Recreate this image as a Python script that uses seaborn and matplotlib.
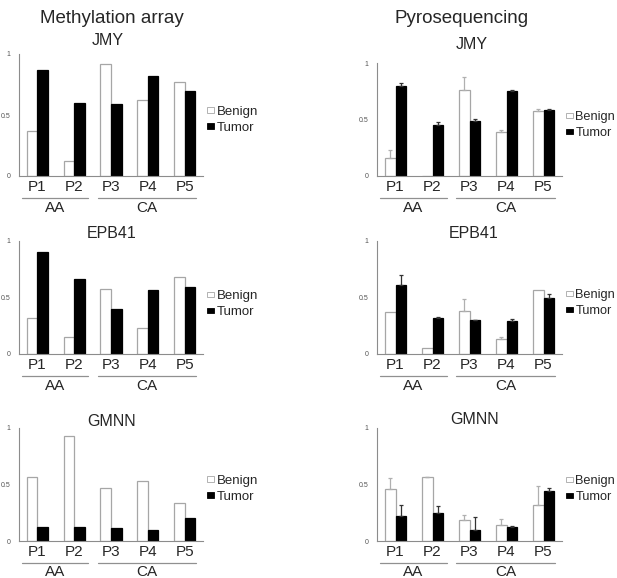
import pandas as pd
import seaborn as sns
import matplotlib.pyplot as plt
from matplotlib.patches import Patch
import numpy as np

# global look
sns.set_theme(style="white")
plt.rcParams.update({
    'font.family': ['Liberation Sans', 'DejaVu Sans'],
    'axes.spines.right': False,
    'axes.spines.top': False,
    'axes.edgecolor': '#8c8c8c',
    'axes.linewidth': 0.8,
})

patients = ['P1', 'P2', 'P3', 'P4', 'P5']
groups = ['AA', 'AA', 'CA', 'CA', 'CA']
status = ['Benign', 'Tumor']

# Methylation array (beta values)
meth_jmy_benign = [0.37, 0.12, 0.92, 0.62, 0.77]
meth_jmy_tumor = [0.87, 0.60, 0.59, 0.82, 0.70]
meth_epb41_benign = [0.32, 0.15, 0.575, 0.23, 0.685]
meth_epb41_tumor = [0.90, 0.66, 0.40, 0.57, 0.59]
meth_gmnn_benign = [0.57, 0.93, 0.465, 0.535, 0.335]
meth_gmnn_tumor = [0.125, 0.12, 0.115, 0.095, 0.205]

# Pyrosequencing (mean + upper error)
pyro_jmy_benign = [0.157, 0.0, 0.763, 0.388, 0.574]
pyro_jmy_benign_err = [0.073, 0.0, 0.116, 0.022, 0.016]
pyro_jmy_tumor = [0.80, 0.447, 0.488, 0.749, 0.583]
pyro_jmy_tumor_err = [0.02, 0.029, 0.018, 0.014, 0.007]
pyro_epb41_benign = [0.37, 0.053, 0.38, 0.13, 0.567]
pyro_epb41_benign_err = [0.0, 0.0, 0.11, 0.018, 0.0]
pyro_epb41_tumor = [0.614, 0.318, 0.30, 0.294, 0.493]
pyro_epb41_tumor_err = [0.089, 0.012, 0.003, 0.012, 0.037]
pyro_gmnn_benign = [0.463, 0.567, 0.184, 0.145, 0.315]
pyro_gmnn_benign_err = [0.092, 0.003, 0.05, 0.054, 0.175]
pyro_gmnn_tumor = [0.223, 0.246, 0.10, 0.128, 0.44]
pyro_gmnn_tumor_err = [0.092, 0.06, 0.108, 0.008, 0.03]

W, H = 617, 578
fig = plt.figure(figsize=(W / 100, H / 100), dpi=100)


def px_axes(left, top, right, bottom):
    return fig.add_axes([left / W, 1 - bottom / H, (right - left) / W, (bottom - top) / H])


def draw_panel(ax, title, title_xy, benign, tumor, benign_err=None, tumor_err=None,
               leg_anchor=(1.03, 0.46), leg_size=9.5):
    df = pd.DataFrame({
        'patient': patients * 2,
        'status': [status[0]] * 5 + [status[1]] * 5,
        'value': list(benign) + list(tumor),
    })
    sns.barplot(data=df, x='patient', y='value', hue='status', hue_order=status,
                palette={'Benign': 'white', 'Tumor': 'black'}, width=0.58,
                errorbar=None, legend=False, saturation=1, ax=ax)
    edge = {'Benign': '#a6a6a6', 'Tumor': 'black'}
    errs = {'Benign': benign_err, 'Tumor': tumor_err}
    for cont, st in zip(ax.containers, status):
        xs, hs = [], []
        for bar in cont:
            bar.set_edgecolor(edge[st])
            bar.set_linewidth(0.9)
            xs.append(bar.get_x() + bar.get_width() / 2)
            hs.append(bar.get_height())
        if errs[st] is not None:
            e = np.array(errs[st])
            keep = e > 0
            ax.errorbar(np.array(xs)[keep], np.array(hs)[keep],
                        yerr=[np.zeros(keep.sum()), e[keep]], fmt='none',
                        ecolor='#b0b0b0' if st == 'Benign' else '#333333',
                        elinewidth=0.9, capsize=1.5, capthick=0.9, zorder=1)

    ax.set_xlim(-0.5, 4.5)
    ax.set_ylim(0, 1)
    ax.set_yticks([0, 0.5, 1])
    ax.set_yticklabels(['0', '0.5', '1'])
    ax.tick_params(axis='y', length=0, pad=6, labelsize=5, labelcolor='#555555')
    ax.tick_params(axis='x', length=0, pad=3, labelsize=11)
    ax.set_xlabel('')
    ax.set_ylabel('')

    # group brackets under the patient labels
    ax_h = ax.get_position().height * H
    line_y = -22 / ax_h
    text_y = -31.5 / ax_h
    for name, x0, x1 in [('AA', -0.42, 1.38), ('CA', 1.64, 4.3)]:
        ax.plot([x0, x1], [line_y, line_y], color='#909090', lw=0.9,
                transform=ax.get_xaxis_transform(), clip_on=False)
        ax.text((x0 + x1) / 2, text_y, name, ha='center', va='center', fontsize=11,
                transform=ax.get_xaxis_transform())

    fig.text(title_xy[0] / W, 1 - title_xy[1] / H, title, ha='center', va='baseline',
             fontsize=11.5)

    handles = [Patch(facecolor='white', edgecolor='#a6a6a6', lw=0.6),
               Patch(facecolor='black', edgecolor='black', lw=0.6)]
    ax.legend(handles, status, frameon=False, fontsize=leg_size, loc='center left',
              bbox_to_anchor=leg_anchor, borderaxespad=0, borderpad=0,
              handlelength=0.55, handleheight=0.3, handletextpad=0.2,
              labelspacing=0.3)


# left column: methylation array
ax = px_axes(19, 54, 203, 176)
draw_panel(ax, 'JMY', (108, 45), meth_jmy_benign, meth_jmy_tumor, leg_anchor=(1.02, 0.46))
ax = px_axes(19, 241, 203, 354)
draw_panel(ax, 'EPB41', (112, 238), meth_epb41_benign, meth_epb41_tumor, leg_anchor=(1.02, 0.44))
ax = px_axes(19, 428, 203, 541)
draw_panel(ax, 'GMNN', (112, 426), meth_gmnn_benign, meth_gmnn_tumor, leg_anchor=(1.02, 0.46))

# right column: pyrosequencing
ax = px_axes(377, 63, 562, 176)
draw_panel(ax, 'JMY', (472, 49), pyro_jmy_benign, pyro_jmy_tumor,
           pyro_jmy_benign_err, pyro_jmy_tumor_err, leg_anchor=(1.02, 0.45), leg_size=9.2)
ax = px_axes(377, 241, 562, 354)
draw_panel(ax, 'EPB41', (474, 238), pyro_epb41_benign, pyro_epb41_tumor,
           pyro_epb41_benign_err, pyro_epb41_tumor_err, leg_anchor=(1.02, 0.45), leg_size=9.2)
ax = px_axes(377, 428, 562, 541)
draw_panel(ax, 'GMNN', (475, 424), pyro_gmnn_benign, pyro_gmnn_tumor,
           pyro_gmnn_benign_err, pyro_gmnn_tumor_err, leg_anchor=(1.02, 0.46), leg_size=9.2)

fig.text(112 / W, 1 - 23 / H, 'Methylation array', ha='center', va='baseline', fontsize=13.5)
fig.text(462 / W, 1 - 23 / H, 'Pyrosequencing', ha='center', va='baseline', fontsize=13.5)

plt.savefig('out.png', dpi=100)
plt.close()
